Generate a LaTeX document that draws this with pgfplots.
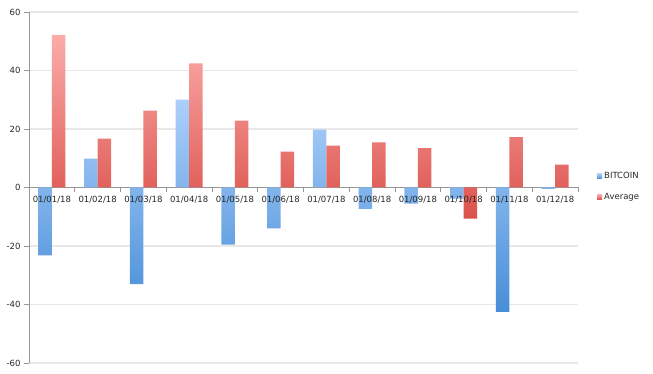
\documentclass[border=0pt]{standalone}
\usepackage{pgfplots}
\pgfplotsset{compat=1.18}
\usepackage{fontspec}
\setmainfont{DejaVu Sans}
\definecolor{btop}{RGB}{172,207,250}
\definecolor{bbot}{RGB}{72,142,216}
\definecolor{rtop}{RGB}{251,172,170}
\definecolor{rbot}{RGB}{220,82,76}
\definecolor{gridc}{RGB}{232,232,232}
\definecolor{axc}{RGB}{150,150,150}
\pgfplotsset{
  common/.style={
    scale only axis, width=549bp, height=351bp,
    xmin=-0.5, xmax=11.5, ymin=-60, ymax=60,
    axis x line=middle, axis y line=left,
    hide obscured x ticks=false, hide obscured y ticks=false,
    tick align=outside,
    tick label style={font=\fontsize{8.5bp}{10bp}\selectfont, text=black!85},
    /pgf/number format/assume math mode=true,
  }
}
\begin{document}
\begin{tikzpicture}
\begin{axis}[
  common,
  ytick={-60,-40,...,60},
  xtick={0,...,11},
  xticklabels={},
  minor xtick={0.5,1.5,...,11.5},
  axis line style={-, draw=axc, line width=0.8bp},
  ymajorgrids, grid style={gridc, line width=1.2bp},
  ybar=0pt, bar width=13.5bp,
  tick style={axc, line width=0.8bp},
  major tick length=5bp, minor tick length=5bp,
  every major x tick/.append style={draw=none},
  legend style={at={(1,0.5)}, anchor=west, xshift=19bp, yshift=1bp, draw=none, fill=none,
    inner sep=0pt, row sep=9bp, font=\fontsize{8.5bp}{10bp}\selectfont, text=black!85},
  legend cell align=left,
]
\addplot[draw=none, top color=btop, bottom color=bbot,
  legend image code/.code={\fill[top color=btop, bottom color=bbot] (0bp,-2.5bp) rectangle (5bp,2.5bp);}]
  coordinates {(0,-23.2) (1,9.9) (2,-33) (3,30) (4,-19.5) (5,-14) (6,19.8) (7,-7.3) (8,-5.5) (9,-3.8) (10,-42.5) (11,-0.5)};
\addlegendentry{BITCOIN}
\addplot[draw=none, top color=rtop, bottom color=rbot,
  legend image code/.code={\fill[top color=rtop, bottom color=rbot] (0bp,-2.5bp) rectangle (5bp,2.5bp);}]
  coordinates {(0,52.2) (1,16.7) (2,26.3) (3,42.4) (4,22.9) (5,12.3) (6,14.3) (7,15.4) (8,13.5) (9,-10.6) (10,17.2) (11,7.8)};
\addlegendentry{Average}
\end{axis}
\begin{axis}[
  common,
  ytick=\empty,
  xtick={0,...,11},
  xticklabels={01/01/18,01/02/18,01/03/18,01/04/18,01/05/18,01/06/18,01/07/18,01/08/18,01/09/18,01/10/18,01/11/18,01/12/18},
  xticklabel style={yshift=-5bp},
  major tick length=0pt,
  axis line style={draw=none},
  every major x tick/.append style={draw=none},
]
\end{axis}
\path (-29bp,-11bp) rectangle (624bp,363bp);
\end{tikzpicture}
\end{document}
